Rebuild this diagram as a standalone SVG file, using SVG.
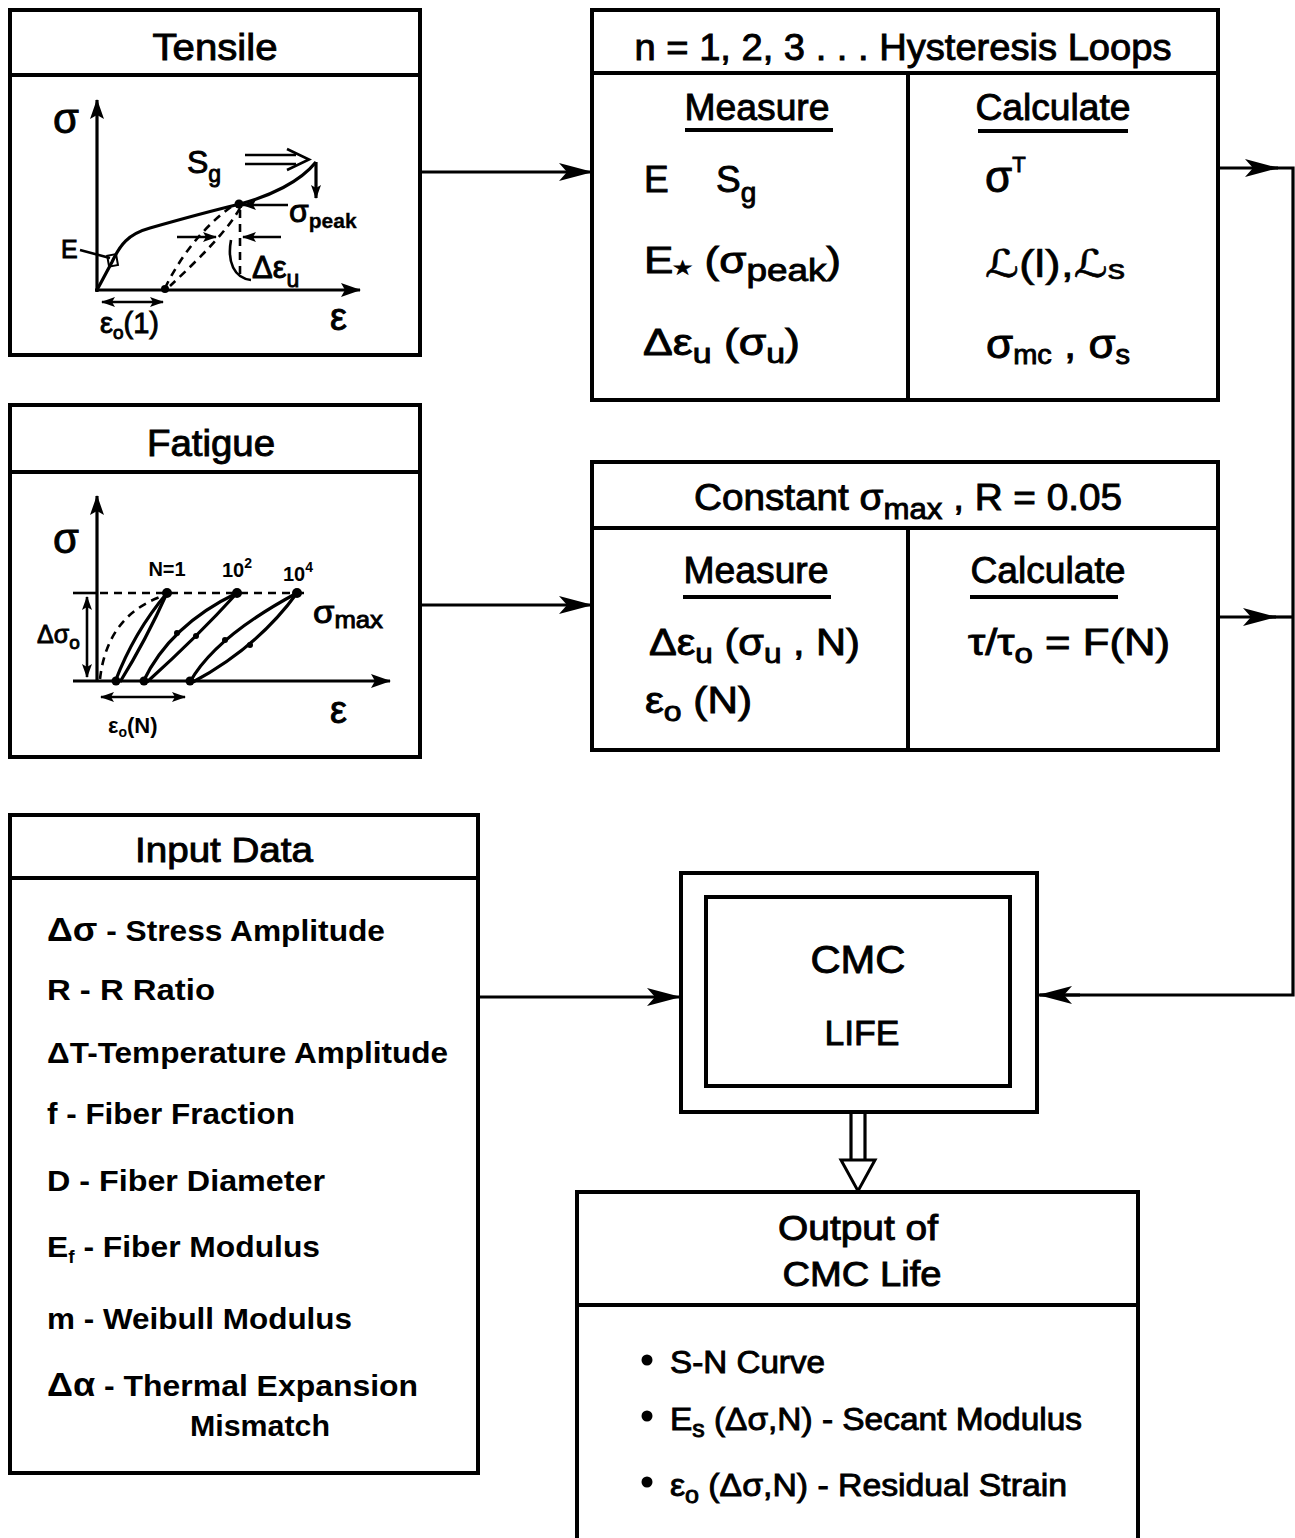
<svg xmlns="http://www.w3.org/2000/svg" width="1295" height="1538" viewBox="0 0 1295 1538">
<style>
.box{fill:none;stroke:#000;stroke-width:4}
.ln{fill:none;stroke:#000;stroke-width:3.2}
.thin{fill:none;stroke:#000;stroke-width:2.6}
.dash{fill:none;stroke:#000;stroke-width:2.6;stroke-dasharray:8 6}
.t{font-family:"Liberation Sans",Arial,sans-serif;fill:#000;stroke:#000;stroke-width:0.9}
.b{font-family:"Liberation Sans",Arial,sans-serif;font-weight:bold;fill:#000}
.c{text-anchor:middle}
.scr{font-family:"DejaVu Serif","DejaVu Sans","Noto Sans",serif;font-style:italic;fill:#000;stroke:#000;stroke-width:0.6}
</style>
<defs>
<marker id="arr" viewBox="0 0 34 20" refX="33" refY="10" markerWidth="34" markerHeight="20" markerUnits="userSpaceOnUse" orient="auto"><path d="M0,1 L34,10 L0,19 L8,10 Z" fill="#000"/></marker>
<marker id="ax" viewBox="0 0 20 14" refX="19" refY="7" markerWidth="20" markerHeight="14" markerUnits="userSpaceOnUse" orient="auto"><path d="M0,0 L20,7 L0,14 L4,7 Z" fill="#000"/></marker>
<marker id="sa" viewBox="0 0 14 10" refX="13" refY="5" markerWidth="14" markerHeight="10" markerUnits="userSpaceOnUse" orient="auto-start-reverse"><path d="M0,0 L14,5 L0,10 L3,5 Z" fill="#000"/></marker>
</defs>

<g id="tensile">
<rect class="box" x="10" y="10" width="410" height="345"/>
<line class="box" x1="10" y1="75" x2="420" y2="75"/>
<text class="t c" x="215" y="60" font-size="36" textLength="125" lengthAdjust="spacingAndGlyphs">Tensile</text>
<line class="ln" x1="97" y1="292" x2="97" y2="100" marker-end="url(#ax)"/>
<line class="ln" x1="95" y1="290" x2="360" y2="290" marker-end="url(#ax)"/>
<text class="t" x="53" y="133" font-size="42">σ</text>
<text class="t" x="330" y="330" font-size="38">ε</text>
<path class="ln" d="M97,290 L112,262 C120,245 128,234 150,228 C185,218 215,210 240,204 C270,196 300,182 316,162"/>
<line class="ln" x1="316" y1="162" x2="316" y2="198" marker-end="url(#sa)"/>
<line class="thin" x1="245" y1="155" x2="296" y2="155"/>
<line class="thin" x1="245" y1="164" x2="296" y2="164"/>
<polyline class="thin" points="287,149 309,159.5 287,170"/>
<text class="t" x="187" y="173" font-size="32">S<tspan font-size="23" dy="9">g</tspan></text>
<circle cx="239" cy="204" r="4.5" fill="#000"/>
<line class="thin" x1="288" y1="205" x2="243" y2="205" marker-end="url(#sa)"/>
<text class="t" x="289" y="222" font-size="32">σ<tspan font-size="21" dy="6" font-weight="bold" stroke-width="0.3">peak</tspan></text>
<path class="dash" d="M231,207 C210,222 185,248 166,286"/>
<path class="dash" d="M240,208 C228,230 200,258 170,286"/>
<line class="dash" x1="240" y1="210" x2="240" y2="276"/>
<line class="thin" x1="177" y1="237" x2="216" y2="237" marker-end="url(#sa)"/>
<line class="thin" x1="281" y1="237" x2="243" y2="237" marker-end="url(#sa)"/>
<path class="thin" d="M231,240 C227,262 234,278 251,280"/>
<text class="t" x="252" y="278" font-size="31">Δε<tspan font-size="23" dy="9">u</tspan></text>
<circle cx="165" cy="289" r="4" fill="#000"/>
<text class="t" x="61" y="258" font-size="25">E</text>
<line class="thin" x1="80" y1="250" x2="110" y2="258"/>
<rect x="108" y="255" width="9" height="11" fill="none" stroke="#000" stroke-width="2" transform="rotate(-10 112 260)"/>
<line class="thin" x1="102" y1="302" x2="163" y2="302" marker-start="url(#sa)" marker-end="url(#sa)"/>
<text class="t" x="100" y="333" font-size="29">ε<tspan font-size="19" dy="6">o</tspan><tspan dy="-6">(1)</tspan></text>
</g>

<g id="fatigue">
<rect class="box" x="10" y="405" width="410" height="352"/>
<line class="box" x1="10" y1="472" x2="420" y2="472"/>
<text class="t c" x="211" y="456" font-size="36" textLength="128" lengthAdjust="spacingAndGlyphs">Fatigue</text>
<line class="ln" x1="97" y1="682" x2="97" y2="496" marker-end="url(#ax)"/>
<line class="ln" x1="73" y1="681" x2="390" y2="681" marker-end="url(#ax)"/>
<text class="t" x="53" y="553" font-size="42">σ</text>
<text class="t" x="330" y="723" font-size="38">ε</text>
<line class="thin" x1="73" y1="593" x2="97" y2="593"/>
<line class="dash" x1="100" y1="593" x2="306" y2="593"/>
<line class="thin" x1="87" y1="597" x2="87" y2="677" marker-start="url(#sa)" marker-end="url(#sa)"/>
<text class="t" x="37" y="643" font-size="25">Δσ<tspan font-size="19" dy="6">o</tspan></text>
<path class="dash" d="M100,679 Q107,617 160,597"/>
<path class="ln" stroke-width="3.6" d="M115,682 Q134,632 167,593"/>
<path class="ln" stroke-width="3.6" d="M167,593 Q146,640 120,682"/>
<path class="ln" stroke-width="3.6" d="M143,682 Q170,625 237,593"/>
<path class="ln" stroke-width="3.6" d="M237,593 Q198,636 147,682"/>
<path class="ln" stroke-width="3.6" d="M190,682 Q215,637 297,593"/>
<path class="ln" stroke-width="3.6" d="M297,593 Q258,647 193,682"/>
<g fill="#000">
<circle cx="167" cy="593" r="5"/><circle cx="237" cy="593" r="5"/><circle cx="297" cy="593" r="5"/>
<circle cx="116" cy="681" r="4.5"/><circle cx="144" cy="681" r="4.5"/><circle cx="190" cy="681" r="4.5"/>
<circle cx="177" cy="633" r="3"/><circle cx="196" cy="636" r="3"/><circle cx="225" cy="640" r="3"/><circle cx="250" cy="645" r="3"/>
</g>
<text class="b c" x="167" y="576" font-size="20">N=1</text>
<text class="b" x="222" y="577" font-size="20">10<tspan font-size="14" dy="-9">2</tspan></text>
<text class="b" x="283" y="581" font-size="20">10<tspan font-size="14" dy="-9">4</tspan></text>
<text class="t" x="313" y="623" font-size="31" textLength="70" lengthAdjust="spacingAndGlyphs">σ<tspan font-size="23" dy="5">max</tspan></text>
<line class="thin" x1="101" y1="697" x2="185" y2="697" marker-start="url(#sa)" marker-end="url(#sa)"/>
<text class="b" x="108" y="733" font-size="22">ε<tspan font-size="14" dy="4">o</tspan><tspan dy="-4">(N)</tspan></text>
</g>

<g id="hysteresis">
<rect class="box" x="592" y="10" width="626" height="390"/>
<line class="box" x1="592" y1="73" x2="1218" y2="73"/>
<line class="box" x1="908" y1="73" x2="908" y2="400"/>
<text class="t c" x="903" y="60" font-size="36" textLength="537" lengthAdjust="spacingAndGlyphs">n = 1, 2, 3 . . . Hysteresis Loops</text>
<text class="t c" x="757" y="120" font-size="37" textLength="145" lengthAdjust="spacingAndGlyphs">Measure</text>
<rect x="685" y="128" width="148" height="4" fill="#000"/>
<text class="t c" x="1053" y="120" font-size="37" textLength="155" lengthAdjust="spacingAndGlyphs">Calculate</text>
<rect x="978" y="129" width="150" height="4" fill="#000"/>
<text class="t" x="644" y="192" font-size="37">E<tspan x="716">S</tspan><tspan font-size="28" dy="10">g</tspan></text>
<text class="t" x="644" y="273" font-size="37" textLength="197" lengthAdjust="spacingAndGlyphs">E<tspan font-size="18" dy="1">★</tspan><tspan dy="-1"> (σ</tspan><tspan font-size="31" dy="8">peak</tspan><tspan dy="-8">)</tspan></text>
<text class="t" x="643" y="355" font-size="37" textLength="157" lengthAdjust="spacingAndGlyphs">Δε<tspan font-size="28" dy="8">u</tspan><tspan dy="-8"> (σ</tspan><tspan font-size="28" dy="8">u</tspan><tspan dy="-8">)</tspan></text>
<text class="t" x="985" y="192" font-size="44">σ<tspan font-size="22" dy="-20">T</tspan></text>
<text class="scr" x="985" y="277" font-size="38" textLength="140" lengthAdjust="spacingAndGlyphs">ℒ<tspan font-style="normal" font-family="Liberation Sans,Arial,sans-serif">(l),</tspan>ℒ<tspan font-style="normal" font-family="Liberation Sans,Arial,sans-serif" font-size="28" dy="2">s</tspan></text>
<text class="t" x="986" y="358" font-size="41" textLength="144" lengthAdjust="spacingAndGlyphs">σ<tspan font-size="27" dy="6">mc</tspan><tspan dy="-6"> , σ</tspan><tspan font-size="27" dy="6">s</tspan></text>
</g>

<g id="constant">
<rect class="box" x="592" y="462" width="626" height="288"/>
<line class="box" x1="592" y1="528" x2="1218" y2="528"/>
<line class="box" x1="908" y1="528" x2="908" y2="750"/>
<text class="t" x="694" y="510" font-size="36" textLength="428" lengthAdjust="spacingAndGlyphs">Constant σ<tspan font-size="29" dy="9">max</tspan><tspan dy="-9"> , R = 0.05</tspan></text>
<text class="t c" x="756" y="583" font-size="37" textLength="145" lengthAdjust="spacingAndGlyphs">Measure</text>
<rect x="683" y="595" width="148" height="4" fill="#000"/>
<text class="t c" x="1048" y="583" font-size="37" textLength="155" lengthAdjust="spacingAndGlyphs">Calculate</text>
<rect x="970" y="595" width="148" height="4" fill="#000"/>
<text class="t" x="649" y="655" font-size="37" textLength="211" lengthAdjust="spacingAndGlyphs">Δε<tspan font-size="28" dy="8">u</tspan><tspan dy="-8"> (σ</tspan><tspan font-size="28" dy="8">u</tspan><tspan dy="-8"> , N)</tspan></text>
<text class="t" x="645" y="713" font-size="37" textLength="107" lengthAdjust="spacingAndGlyphs">ε<tspan font-size="28" dy="8">o</tspan><tspan dy="-8"> (N)</tspan></text>
<text class="t" x="968" y="655" font-size="37" textLength="202" lengthAdjust="spacingAndGlyphs">τ/τ<tspan font-size="28" dy="8">o</tspan><tspan dy="-8"> = F(N)</tspan></text>
</g>

<g id="input">
<rect class="box" x="10" y="815" width="468" height="658"/>
<line class="box" x1="10" y1="878" x2="478" y2="878"/>
<text class="t c" x="224" y="862" font-size="35" textLength="178" lengthAdjust="spacingAndGlyphs">Input Data</text>
<text class="b" x="47" y="941" font-size="30" textLength="338" lengthAdjust="spacingAndGlyphs"><tspan font-size="34">Δσ</tspan> - Stress Amplitude</text>
<text class="b" x="47" y="1000" font-size="30" textLength="168" lengthAdjust="spacingAndGlyphs">R - R Ratio</text>
<text class="b" x="47" y="1063" font-size="30" textLength="401" lengthAdjust="spacingAndGlyphs">ΔT-Temperature Amplitude</text>
<text class="b" x="47" y="1124" font-size="30" textLength="248" lengthAdjust="spacingAndGlyphs">f - Fiber Fraction</text>
<text class="b" x="47" y="1191" font-size="30" textLength="278" lengthAdjust="spacingAndGlyphs">D - Fiber Diameter</text>
<text class="b" x="47" y="1257" font-size="30" textLength="273" lengthAdjust="spacingAndGlyphs">E<tspan font-size="18" dy="6">f</tspan><tspan dy="-6"> - Fiber Modulus</tspan></text>
<text class="b" x="47" y="1329" font-size="30" textLength="305" lengthAdjust="spacingAndGlyphs">m - Weibull Modulus</text>
<text class="b" x="47" y="1396" font-size="30" textLength="371" lengthAdjust="spacingAndGlyphs"><tspan font-size="34">Δα</tspan> - Thermal Expansion</text>
<text class="b" x="190" y="1436" font-size="30" textLength="140" lengthAdjust="spacingAndGlyphs">Mismatch</text>
</g>

<g id="cmc">
<rect class="box" x="681" y="873" width="356" height="239"/>
<rect class="box" x="706" y="897" width="304" height="189"/>
<text class="t c" x="858" y="973" font-size="39" textLength="95" lengthAdjust="spacingAndGlyphs">CMC</text>
<text class="t c" x="862" y="1045" font-size="35" textLength="75" lengthAdjust="spacingAndGlyphs">LIFE</text>
</g>

<g id="output">
<rect class="box" x="577" y="1192" width="561" height="360"/>
<line class="box" x1="577" y1="1305" x2="1138" y2="1305"/>
<text class="t c" x="858" y="1240" font-size="35" textLength="160" lengthAdjust="spacingAndGlyphs">Output of</text>
<text class="t c" x="862" y="1286" font-size="35" textLength="159" lengthAdjust="spacingAndGlyphs">CMC Life</text>
<circle cx="647" cy="1360" r="5.5" fill="#000"/>
<circle cx="647" cy="1416" r="5.5" fill="#000"/>
<circle cx="647" cy="1482" r="5.5" fill="#000"/>
<text class="t" x="670" y="1373" font-size="31" textLength="155" lengthAdjust="spacingAndGlyphs">S-N Curve</text>
<text class="t" x="670" y="1430" font-size="31" textLength="412" lengthAdjust="spacingAndGlyphs">E<tspan font-size="23" dy="7">s</tspan><tspan dy="-7"> (Δσ,N) - Secant Modulus</tspan></text>
<text class="t" x="670" y="1496" font-size="31" textLength="397" lengthAdjust="spacingAndGlyphs">ε<tspan font-size="23" dy="7">o</tspan><tspan dy="-7"> (Δσ,N) - Residual Strain</tspan></text>
</g>

<g id="connectors">
<line class="ln" x1="420" y1="172" x2="592" y2="172" marker-end="url(#arr)"/>
<line class="ln" x1="420" y1="605" x2="592" y2="605" marker-end="url(#arr)"/>
<line class="ln" x1="478" y1="997" x2="680" y2="997" marker-end="url(#arr)"/>
<line class="ln" x1="1218" y1="168" x2="1278" y2="168" marker-end="url(#arr)"/>
<line class="ln" x1="1218" y1="617" x2="1276" y2="617" marker-end="url(#arr)"/>
<polyline class="ln" points="1270,168 1293,168 1293,995 1040,995"/>
<line class="ln" x1="1270" y1="617" x2="1293" y2="617"/>
<line class="ln" x1="1080" y1="995" x2="1039" y2="995" marker-end="url(#arr)"/>
<line class="ln" x1="851" y1="1112" x2="851" y2="1160"/>
<line class="ln" x1="865" y1="1112" x2="865" y2="1160"/>
<path d="M841,1160 L875,1160 L858,1191 Z" fill="#fff" stroke="#000" stroke-width="3" stroke-linejoin="miter"/>
</g>
</svg>
